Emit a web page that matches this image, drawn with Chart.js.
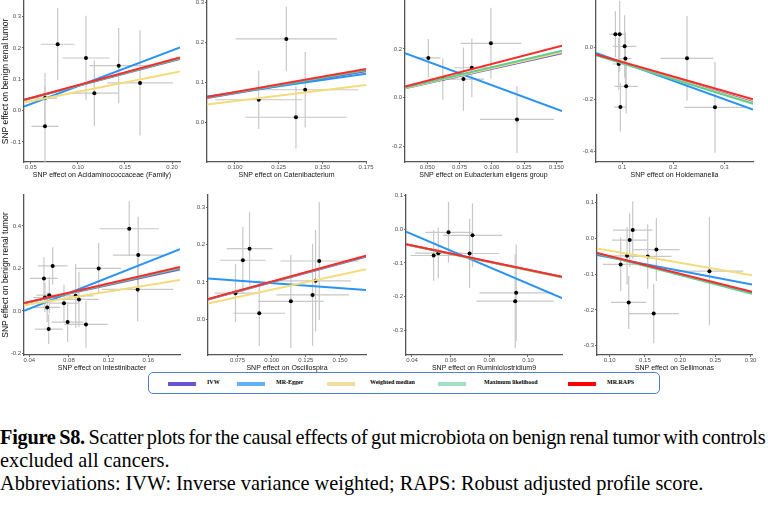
<!DOCTYPE html>
<html>
<head>
<meta charset="utf-8">
<script src="https://cdn.jsdelivr.net/npm/chart.js@4.4.0/dist/chart.umd.min.js"></script>
<style>
  body { margin: 0; background: #fff; width: 768px; height: 507px; position: relative; overflow: hidden; }
  canvas { position: absolute; }
  #legend { position: absolute; left: 148px; top: 372px; width: 512px; height: 22px; border: 1px solid #4f7fd6; border-radius: 5px; box-sizing: border-box; }
  .sw { position: absolute; top: 9px; width: 28px; height: 4px; }
  .lt { position: absolute; top: 6px; font: bold 6px "Liberation Serif", "Times New Roman", serif; white-space: nowrap; }
  #caption { position: absolute; left: 0; top: 426px; font: 20.3px/23px "Liberation Serif", "Times New Roman", serif; color: #000; white-space: nowrap; }
  #caption .tight { letter-spacing: -0.25px; word-spacing: -1.2px; }
</style>
</head>
<body>
<div id="legend">
  <div class="sw" style="left:19px;background:#6a55d0"></div><div class="lt" style="left:58px">IVW</div>
  <div class="sw" style="left:88px;background:#62b1f2"></div><div class="lt" style="left:127px">MR-Egger</div>
  <div class="sw" style="left:178px;background:#eedf9c"></div><div class="lt" style="left:221px">Weighted median</div>
  <div class="sw" style="left:289px;background:#a3e0c4"></div><div class="lt" style="left:335px">Maximum likelihood</div>
  <div class="sw" style="left:419px;background:#ff0000"></div><div class="lt" style="left:458px">MR.RAPS</div>
</div>
<div id="caption"><span class="tight"><b>Figure S8.</b> Scatter plots for the causal effects of gut microbiota on benign renal tumor with controls</span><br>excluded all cancers.<br>Abbreviations: IVW: Inverse variance weighted; RAPS: Robust adjusted profile score.</div>

<script>
// Exposures (one panel each)
const taxa = ['Acidaminococcaceae (Family)', 'Catenibacterium', 'Eubacterium eligens group', 'Holdemanella',
              'Intestinibacter', 'Oscillospira', 'Ruminiclostridium9', 'Sellimonas'];

// SNP effects on exposure / outcome and their standard errors
const exposureBeta = [
  [0.0784, 0.1085, 0.1433, 0.1174, 0.166, 0.0649, 0.0649],
  [0.1294, 0.1402, 0.1136, 0.1349],
  [0.0508, 0.062, 0.078, 0.0845, 0.0993, 0.1195],
  [0.0869, 0.0953, 0.105, 0.1065, 0.0934, 0.108, 0.0967, 0.227, 0.2816],
  [0.1408, 0.1499, 0.1493, 0.11, 0.0636, 0.0548, 0.0602, 0.0558, 0.0581, 0.075, 0.0868, 0.0901, 0.0787, 0.0596, 0.0972],
  [0.0838, 0.0789, 0.0735, 0.0909, 0.114, 0.1299, 0.1321, 0.1348],
  [0.0512, 0.0536, 0.0589, 0.0713, 0.0698, 0.0939, 0.0934],
  [0.1327, 0.1284, 0.1663, 0.1247, 0.154, 0.1156, 0.127, 0.1625, 0.2416]
];
const outcomeBeta = [
  [0.212, 0.168, 0.1435, 0.0556, 0.0886, 0.040, -0.050],
  [0.2085, 0.082, 0.057, 0.0135],
  [0.163, 0.076, 0.076, 0.1225, 0.223, -0.09],
  [0.051, 0.051, 0.004, -0.043, -0.064, -0.15, -0.23, -0.042, -0.231],
  [0.387, 0.263, 0.101, 0.2, 0.212, 0.153, 0.074, 0.063, 0.016, 0.036, 0.071, 0.054, -0.053, -0.086, -0.064],
  [0.189, 0.158, 0.0697, 0.016, 0.048, 0.065, 0.103, 0.156],
  [-0.078, -0.071, -0.009, -0.018, -0.072, -0.189, -0.214],
  [0.0233, -0.0047, -0.031, -0.0487, -0.0504, -0.0727, -0.179, -0.21, -0.0915]
];
const exposureSe = [
  [0.018, 0.025, 0.031, 0.025, 0.035, 0.013, 0.0145],
  [0.029, 0.0305, 0.025, 0.029],
  [0.0093, 0.01, 0.016, 0.014, 0.0236, 0.0287],
  [0.012, 0.012, 0.023, 0.012, 0.012, 0.0228, 0.0125, 0.0515, 0.06],
  [0.030, 0.0255, 0.036, 0.0227, 0.015, 0.014, 0.013, 0.012, 0.013, 0.015, 0.018, 0.02, 0.016, 0.014, 0.022],
  [0.0167, 0.0167, 0.0153, 0.019, 0.024, 0.0266, 0.026, 0.0284],
  [0.012, 0.012, 0.012, 0.0153, 0.0153, 0.019, 0.02],
  [0.028, 0.025, 0.033, 0.025, 0.0337, 0.025, 0.025, 0.0355, 0.048]
];
const outcomeSe = [
  [0.115, 0.135, 0.12, 0.105, 0.168, 0.08, 0.13],
  [0.08, 0.094, 0.073, 0.078],
  [0.078, 0.085, 0.13, 0.12, 0.146, 0.138],
  [0.088, 0.145, 0.12, 0.1, 0.1, 0.105, 0.095, 0.163, 0.175],
  [0.128, 0.18, 0.15, 0.12, 0.088, 0.1, 0.085, 0.07, 0.07, 0.087, 0.15, 0.13, 0.094, 0.07, 0.11],
  [0.098, 0.09, 0.078, 0.088, 0.125, 0.137, 0.136, 0.158],
  [0.075, 0.075, 0.09, 0.095, 0.103, 0.144, 0.14],
  [0.08, 0.075, 0.088, 0.08, 0.09, 0.075, 0.074, 0.083, 0.151]
];

// MR estimates (slopes), Egger also has an intercept
const methods = ['IVW', 'MR-Egger', 'Weighted median', 'Maximum likelihood', 'MR.RAPS'];
const ivwSlope = [0.79, 0.731, 1.18, -0.592, 1.016, 0.99, -1.21, -0.50];
const eggerSlope = [1.134, 0.626, -1.956, -0.712, 1.85, -0.263, -2.45, -0.373];
const eggerIntercept = [-0.035, 0.0124, 0.246, 0.0134, -0.064, 0.123, 0.0835, -0.016];
const wmSlope = [0.60, 0.537, 1.21, -0.60, 0.755, 0.793, -1.22, -0.34];
const mlSlope = [0.80, 0.745, 1.25, -0.61, 1.047, 1.0, -1.215, -0.513];
const rapsSlope = [0.815, 0.763, 1.383, -0.563, 1.08, 1.006, -1.2, -0.494];

// axis limits and tick labels
const xMin = [0.0426, 0.084, 0.0327, 0.049, 0.0347, 0.0534, 0.0369, 0.082];
const xMax = [0.2085, 0.175, 0.1544, 0.356, 0.192, 0.169, 0.1176, 0.302];
const yMin = [-0.164, -0.098, -0.265, -0.442, -0.208, -0.096, -0.374, -0.326];
const yMax = [0.35, 0.303, 0.397, 0.179, 0.546, 0.333, 0.102, 0.1215];
const xTickLabels = [
  ['0.05', '0.10', '0.15', '0.20'], ['0.100', '0.125', '0.150', '0.175'],
  ['0.050', '0.075', '0.100', '0.125', '0.150'], ['0.1', '0.2', '0.3'],
  ['0.04', '0.08', '0.12', '0.16'], ['0.075', '0.100', '0.125', '0.150'],
  ['0.04', '0.06', '0.08', '0.10'], ['0.10', '0.15', '0.20', '0.25', '0.30']
];
const yTickLabels = [
  ['-0.1', '0.0', '0.1', '0.2', '0.3'], ['0.0', '0.1', '0.2', '0.3'],
  ['-0.2', '0.0', '0.2'], ['-0.4', '-0.2', '0.0'],
  ['-0.2', '0.0', '0.2', '0.4'], ['0.0', '0.1', '0.2', '0.3'],
  ['-0.3', '-0.2', '-0.1', '0.0', '0.1'], ['-0.3', '-0.2', '-0.1', '0.0', '0.1']
];

// layout of plot areas: [left, top, right, bottom]
const boxes = [
  [24, 1, 180, 162], [207, 1, 366, 162], [405, 1, 562, 162], [596, 1, 753, 162],
  [24, 195, 180, 355], [208, 195, 366, 355], [406, 195, 562, 355], [597, 195, 752, 355]
];
const lineColors = ['#7159d9', '#2a93f5', '#f3dc7b', '#5ccf93', '#ff2a2a'];
const SANS = '"Liberation Sans", Arial, sans-serif';

function errorBars(i) {
  return {
    id: 'errorBars' + i,
    beforeDatasetsDraw(chart) {
      const { ctx, chartArea: a, scales: { x, y } } = chart;
      ctx.save();
      ctx.beginPath();
      ctx.rect(a.left, a.top, a.right - a.left, a.bottom - a.top);
      ctx.clip();
      ctx.strokeStyle = '#c8c8c8';
      ctx.lineWidth = 1.2;
      exposureBeta[i].forEach((bx, k) => {
        const by = outcomeBeta[i][k], sx = exposureSe[i][k], sy = outcomeSe[i][k];
        ctx.beginPath();
        ctx.moveTo(x.getPixelForValue(bx), y.getPixelForValue(by - sy));
        ctx.lineTo(x.getPixelForValue(bx), y.getPixelForValue(by + sy));
        ctx.moveTo(x.getPixelForValue(bx - sx), y.getPixelForValue(by));
        ctx.lineTo(x.getPixelForValue(bx + sx), y.getPixelForValue(by));
        ctx.stroke();
      });
      ctx.restore();
    }
  };
}

boxes.forEach((b, i) => {
  const firstCol = i % 4 === 0;
  const yW = firstCol ? 24 : 22;
  const xH = 17, padTop = 6, padRight = 14;
  const cv = document.createElement('canvas');
  cv.width = yW + (b[2] - b[0]) + padRight;
  cv.height = padTop + (b[3] - b[1]) + xH;
  cv.style.left = (b[0] - yW) + 'px';
  cv.style.top = (b[1] - padTop) + 'px';
  document.body.appendChild(cv);

  const slopes = [ivwSlope[i], eggerSlope[i], wmSlope[i], mlSlope[i], rapsSlope[i]];
  const intercepts = [0, eggerIntercept[i], 0, 0, 0];
  const lineSets = methods.map((m, j) => ({
    type: 'line',
    label: m,
    data: [xMin[i], xMax[i]].map(v => ({ x: v, y: intercepts[j] + slopes[j] * v })),
    borderColor: lineColors[j],
    borderWidth: 2,
    pointRadius: 0,
    order: 5 - j
  }));

  new Chart(cv, {
    type: 'scatter',
    data: {
      datasets: [{
        label: 'SNPs',
        data: exposureBeta[i].map((v, k) => ({ x: v, y: outcomeBeta[i][k] })),
        pointRadius: 2,
        pointBackgroundColor: '#000',
        pointBorderWidth: 0,
        order: 10
      }].concat(lineSets)
    },
    options: {
      responsive: false,
      animation: false,
      layout: { padding: { top: padTop, right: padRight, left: 0, bottom: 0 } },
      plugins: { legend: { display: false }, tooltip: { enabled: false } },
      scales: {
        x: {
          type: 'linear', min: xMin[i], max: xMax[i],
          afterBuildTicks: s => { s.ticks = xTickLabels[i].map(t => ({ value: parseFloat(t) })); },
          afterFit: s => { s.height = xH; s.paddingLeft = 0; s.paddingRight = 0; },
          ticks: { callback: (v, k) => xTickLabels[i][k], color: '#4d4d4d', font: { family: SANS, size: 6 }, padding: 0, maxRotation: 0, autoSkip: false },
          grid: { drawOnChartArea: false, tickLength: 2, color: '#666' },
          border: { color: '#555', width: 1.3 },
          title: { display: true, text: 'SNP effect on ' + taxa[i], color: '#111', font: { family: SANS, size: 7 }, padding: 0 }
        },
        y: {
          type: 'linear', min: yMin[i], max: yMax[i],
          afterBuildTicks: s => { s.ticks = yTickLabels[i].map(t => ({ value: parseFloat(t) })); },
          afterFit: s => { s.width = yW; s.paddingTop = 0; s.paddingBottom = 0; },
          ticks: { callback: (v, k) => yTickLabels[i][k], color: '#4d4d4d', font: { family: SANS, size: 6 }, padding: 1 },
          grid: { drawOnChartArea: false, tickLength: 2, color: '#666' },
          border: { color: '#555', width: 1.3 },
          title: { display: firstCol, text: 'SNP effect on benign renal tumor', color: '#111', font: { family: SANS, size: 8.5 }, padding: { top: 1, bottom: 0 } }
        }
      }
    },
    plugins: [errorBars(i)]
  });
});
</script>
</body>
</html>
